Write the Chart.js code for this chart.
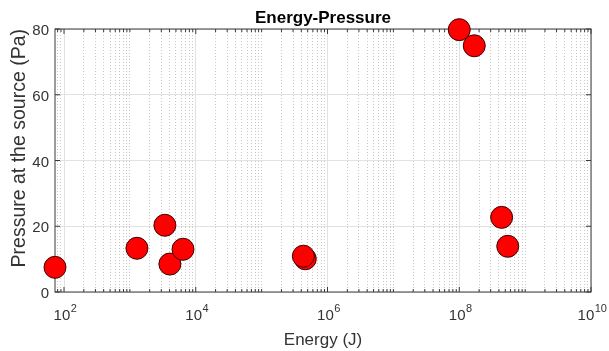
<!DOCTYPE html>
<html lang="en">
<head>
<meta charset="UTF-8">
<title>Energy-Pressure</title>
<script src="https://cdn.jsdelivr.net/npm/chart.js"></script>
<style>
  html, body { margin: 0; padding: 0; background: #fff; }
  #wrap { width: 609px; height: 351px; }
</style>
</head>
<body>
<div id="wrap"><canvas id="myChart" width="609" height="351"></canvas></div>
<script>
// energy (J) and pressure at the source (Pa) for each event
const energy   = [73, 1280, 3400, 4050, 6400, 4.6e5, 4.3e5, 1.0e8, 1.69e8, 4.4e8, 5.45e8];
const pressure = [7.5, 13.3, 20.3, 8.5, 13.0, 10.1, 10.9, 79.8, 74.9, 22.7, 13.9];

const xMin = 73;
const xMax = 1e10;
const yTicks = [0, 20, 40, 60, 80];
const xLabelExps = [2, 4, 6, 8, 10];   // labelled decades: 10^2 ... 10^10

const fam = "'Liberation Sans', Arial, Helvetica, sans-serif";
const textColor = '#333333';

// every k*10^e inside the range, so the minor grid gets drawn too
let xTickVals = [];
for (let e = 1; e <= 9; e++) {
  for (let k = 1; k <= 9; k++) {
    const v = k * Math.pow(10, e);
    if (v >= xMin && v <= xMax) xTickVals.push(v);
  }
}
xTickVals.push(xMax);

function expOf(v) {
  const e = Math.log10(v);
  return Math.abs(e - Math.round(e)) < 1e-9 ? Math.round(e) : null;
}
function isMajor(v) {
  const e = expOf(v);
  return e !== null && xLabelExps.includes(e);
}

// box round the axes + inward tick marks, drawn under the points
const axesBox = {
  id: 'axesBox',
  beforeDatasetsDraw(chart) {
    const { ctx, chartArea: a, scales: { x, y } } = chart;
    ctx.save();
    ctx.strokeStyle = '#3a3a3a';
    ctx.lineWidth = 1;
    ctx.strokeRect(a.left, a.top, a.right - a.left, a.bottom - a.top);
    ctx.beginPath();
    x.ticks.forEach(t => {
      const px = x.getPixelForValue(t.value);
      const len = isMajor(t.value) ? 5 : 3;
      ctx.moveTo(px, a.bottom); ctx.lineTo(px, a.bottom - len);
      ctx.moveTo(px, a.top);    ctx.lineTo(px, a.top + len);
    });
    y.ticks.forEach(t => {
      const py = y.getPixelForValue(t.value);
      ctx.moveTo(a.left, py);  ctx.lineTo(a.left + 5, py);
      ctx.moveTo(a.right, py); ctx.lineTo(a.right - 5, py);
    });
    ctx.stroke();
    ctx.restore();
  },
  // x labels as 10 with a raised exponent
  afterDraw(chart) {
    const { ctx, chartArea: a, scales: { x } } = chart;
    ctx.save();
    ctx.fillStyle = textColor;
    ctx.textBaseline = 'alphabetic';
    ctx.textAlign = 'left';
    x.ticks.forEach(t => {
      if (!isMajor(t.value)) return;
      const px = x.getPixelForValue(t.value);
      const ex = String(expOf(t.value));
      ctx.font = '15px ' + fam;
      const wb = ctx.measureText('10').width;
      ctx.font = '11px ' + fam;
      const we = ctx.measureText(ex).width;
      const x0 = px - (wb + we) / 2 + 1;
      ctx.font = '15px ' + fam;
      ctx.fillText('10', x0, a.bottom + 28);
      ctx.font = '11px ' + fam;
      ctx.fillText(ex, x0 + wb + 0.5, a.bottom + 20);
    });
    ctx.restore();
  }
};

new Chart(document.getElementById('myChart'), {
  type: 'scatter',
  data: {
    datasets: [{
      data: energy.map((e, i) => ({ x: e, y: pressure[i] })),
      backgroundColor: '#ff0000',
      borderColor: '#3a0000',
      borderWidth: 1,
      pointRadius: 11,
      pointHoverRadius: 11,
      clip: false
    }]
  },
  options: {
    responsive: false,
    animation: false,
    events: [],
    layout: { padding: { left: 0, right: 18, top: 0, bottom: 0 } },
    plugins: {
      legend: { display: false },
      tooltip: { enabled: false },
      title: {
        display: true,
        text: 'Energy-Pressure',
        fullSize: false,
        color: '#000',
        font: { family: fam, size: 17, weight: 'bold', lineHeight: 1.2 },
        padding: { top: 8, bottom: 0.6 }
      }
    },
    scales: {
      x: {
        type: 'logarithmic',
        min: xMin,
        max: xMax,
        afterBuildTicks: s => { s.ticks = xTickVals.map(v => ({ value: v })); },
        afterFit: s => { s.height = 59; },
        ticks: {
          autoSkip: false,
          maxRotation: 0,
          callback: () => ''
        },
        grid: {
          drawTicks: false,
          lineWidth: 1,
          color: c => (c.tick && isMajor(c.tick.value)) ? '#e2e2e2' : '#c8c8c8'
        },
        border: {
          display: false,
          dash: c => (c.tick && isMajor(c.tick.value)) ? [] : [1, 2]
        },
        title: {
          display: true,
          text: 'Energy (J)',
          color: textColor,
          font: { family: fam, size: 17, lineHeight: 1.2 },
          padding: { top: 0, bottom: 0 }
        }
      },
      y: {
        min: 0,
        max: 80,
        afterBuildTicks: s => { s.ticks = yTicks.map(v => ({ value: v })); },
        afterFit: s => { s.width = 55; },
        ticks: {
          padding: 6,
          labelOffset: 2,
          color: textColor,
          font: { family: fam, size: 15 }
        },
        grid: { drawTicks: false, color: '#e2e2e2', lineWidth: 1 },
        border: { display: false },
        title: {
          display: true,
          text: 'Pressure at the source (Pa)',
          align: 'end',
          color: textColor,
          font: { family: fam, size: 19.5, lineHeight: 1 },
          padding: { top: 10, bottom: 0 }
        }
      }
    }
  },
  plugins: [axesBox]
});
</script>
</body>
</html>
